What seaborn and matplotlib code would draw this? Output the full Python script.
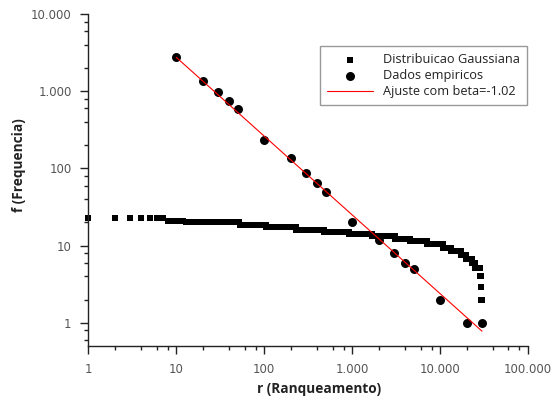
import numpy as np
import pandas as pd
import seaborn as sns
import matplotlib.pyplot as plt
from matplotlib.ticker import LogLocator, FuncFormatter, NullFormatter

# empirical rank-frequency points
emp_rank = [10, 20, 30, 40, 50, 100, 200, 300, 400, 500,
            1000, 2000, 3000, 4000, 5000, 10000, 20000, 30000]
emp_freq = [2750, 1350, 975, 750, 590, 235, 136, 87, 65, 50,
            20, 12, 8, 6, 5, 2, 1, 1]

# gaussian sample: frequency level and last rank of each run of equal values
gauss_level = [22.6, 21.1, 20.2, 18.7, 17.4, 16.1, 15.2, 14.2, 13.2, 12.3,
               11.4, 10.6, 9.3, 8.4, 7.6, 6.8, 6.0, 5.1, 4.1, 2.9, 2.0]
gauss_last_rank = [7, 12, 52, 104, 228, 480, 920, 1700, 3100, 4600,
                   7200, 10700, 13500, 17100, 19500, 23000, 25300, 28500,
                   29200, 29600, 30000]

# power law fit, end points
fit_rank = [10, 30000]
fit_freq = [2750, 0.78]
fit_label = "Ajuste com beta=-1.02"

# expand runs into one point per rank
ranks, freqs = [], []
first = 1
for lvl, last in zip(gauss_level, gauss_last_rank):
    r = np.arange(first, last + 1)
    ranks.append(r)
    freqs.append(np.full(len(r), lvl))
    first = last + 1
gauss = pd.DataFrame({"rank": np.concatenate(ranks), "freq": np.concatenate(freqs)})
emp = pd.DataFrame({"rank": emp_rank, "freq": emp_freq})
fit = pd.DataFrame({"rank": fit_rank, "freq": fit_freq})

sns.set_style("ticks")
plt.rcParams["font.family"] = ["DejaVu Sans"]

fig, ax = plt.subplots(figsize=(5.54, 4.01), dpi=100)
fig.subplots_adjust(left=0.1594, right=0.953, bottom=0.137, top=0.965)

sns.scatterplot(data=gauss, x="rank", y="freq", ax=ax, marker="s", s=13,
                color="black", linewidth=0, label="Distribuicao Gaussiana",
                clip_on=False, zorder=2)
sns.scatterplot(data=emp, x="rank", y="freq", ax=ax, marker="o", s=42,
                color="black", linewidth=0, label="Dados empiricos",
                clip_on=False, zorder=3)
sns.lineplot(data=fit, x="rank", y="freq", ax=ax, color="#ff0000",
             linewidth=0.8, label=fit_label, zorder=4)

ax.set_xscale("log")
ax.set_yscale("log")
ax.set_xlim(1, 100000)
ax.set_ylim(0.5, 10000)

fmt = FuncFormatter(lambda v, p: f"{int(round(v)):,}".replace(",", "."))
for axis in (ax.xaxis, ax.yaxis):
    axis.set_major_locator(LogLocator(base=10))
    axis.set_minor_locator(LogLocator(base=10, subs=[2, 4, 6, 8]))
    axis.set_major_formatter(fmt)
    axis.set_minor_formatter(NullFormatter())

ax.tick_params(which="major", length=5.5, width=1, color="#222222",
               labelsize=8.5, labelcolor="#555555", pad=6.5)
ax.tick_params(which="minor", length=3, width=1, color="#222222")
for s in ("left", "bottom"):
    ax.spines[s].set_linewidth(1)
    ax.spines[s].set_color("#222222")
sns.despine(ax=ax)

lab = dict(family=["Open Sans", "DejaVu Sans"], fontweight="bold",
           fontsize=9.8, color="#222222")
ax.set_xlabel("r (Ranqueamento)", **lab)
ax.set_ylabel("f (Frequencia)", **lab)
ax.xaxis.set_label_coords(0.525, -0.108)
ax.yaxis.set_label_coords(-0.1417, 0.545)

leg = ax.legend(loc="upper right", bbox_to_anchor=(0.998, 0.904),
                borderaxespad=0,
                frameon=True, fancybox=False, edgecolor="#999999",
                framealpha=1, handlelength=3.6, handletextpad=0.8,
                borderpad=0.55, labelspacing=0.25,
                prop={"family": ["Open Sans", "DejaVu Sans"], "size": 9.2})
leg.get_frame().set_linewidth(1)
for t in leg.get_texts():
    t.set_color("#222222")

fig.savefig("out.png", dpi=100)
